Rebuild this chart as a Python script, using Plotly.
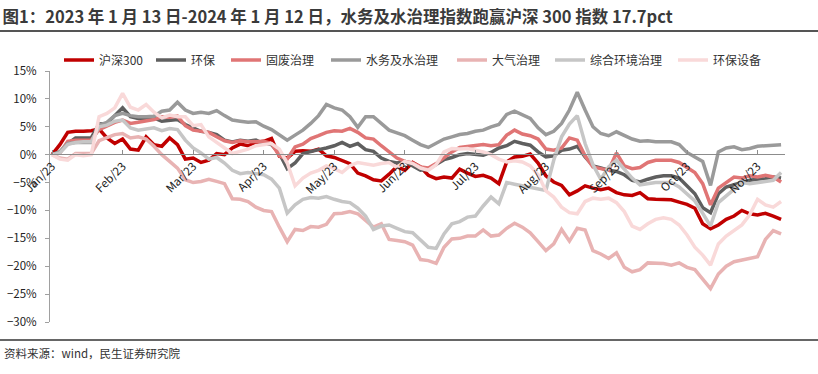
import plotly.graph_objects as go

# x positions: trading-day sample index
month_labels = ["Jan/23", "Feb/23", "Mar/23", "Apr/23", "May/23", "Jun/23",
                "Jul/23", "Aug/23", "Sep/23", "Oct/23", "Nov/23"]
month_ticks = [0, 9, 18, 27, 36, 45, 54, 63, 72, 81, 90]

hs300 = [0, 1.8, 4.0, 4.2, 4.2, 4.3, 4.6, 3.0, 2.0, 2.8,
         1.0, 0.8, 3.2, 1.8, 1.5, 3.0, 1.8, -0.8, -0.6, -1.4,
         -1.0, 0.2, 0.0, 1.2, 1.9, 1.6, 2.2, 2.4, 2.9, -0.3,
         -0.6, 0.6, 0.7, 0.6, 1.0, -0.2, -0.5, -1.0, -1.6, -3.3,
         -3.8, -4.5, -4.7, -3.5, -2.1, -2.8, -1.4, -2.2, -3.7, -4.3,
         -4.0, -4.2, -2.6, -3.3, -3.9, -3.7, -4.2, -5.2, -1.3, -0.4,
         -0.3, 0.1, -1.5, -3.8, -4.9, -5.5, -7.2, -6.5, -5.6, -6.0,
         -6.3, -6.0, -6.8, -7.2, -7.3, -6.8, -7.9, -8.0, -8.0, -8.1,
         -8.5, -8.9, -9.6, -12.4, -13.3, -12.6, -11.6, -11.0, -10.0, -10.6,
         -10.8, -10.5, -11.0, -11.6]

huanbao = [0, 0.5, 2.0, 3.0, 3.0, 3.0, 5.5, 5.6, 7.0, 8.4,
           6.8, 6.5, 6.4, 6.6, 6.0, 6.2, 6.3, 5.4, 4.8, 4.2,
           4.0, 3.6, 2.6, 2.3, 2.6, 2.4, 2.6, 2.0, 1.8, 0.2,
           -2.5, -1.5, 0.2, 0.6, 0.9, 1.2, 1.6, 2.2, 1.5, 2.0,
           0.9, 0.6, -0.6, -1.2, -1.5, -1.2, -2.0, -2.8, -2.6, -1.8,
           -0.9, -0.5, 0.0, 0.2, 0.1, -0.1, 0.4, 1.2, 1.6, 2.4,
           2.0, 1.7, 0.5, -0.4, -0.2, 0.8, 1.0, 1.5, -0.4, -2.0,
           -2.4, -2.8, -3.0, -3.6, -4.6, -4.9, -4.4, -4.0, -3.8, -3.8,
           -4.2, -5.6, -7.0, -9.5, -10.4, -7.0, -5.8, -5.4, -5.0, -4.6,
           -4.4, -4.3, -4.0, -4.2]

gufei = [0, 0.3, 2.4, 2.6, 2.6, 2.6, 4.5, 5.2, 5.8, 6.2,
         5.6, 5.8, 6.0, 6.3, 6.8, 6.7, 6.9, 5.2, 4.4, 4.2,
         4.0, 3.2, 2.5, 2.2, 2.5, 2.3, 2.4, 2.4, 2.0, -0.2,
         -0.8, 1.4, 1.9, 2.9, 3.4, 4.0, 4.3, 4.2, 4.7, 4.0,
         3.0, 2.8, 1.6, 0.4, -0.6, -1.2, -1.5, -2.2, -2.4, -1.6,
         -0.5, 0.5, 1.3, 1.5, 1.6, 1.8, 1.6, 1.8, 3.5, 4.4,
         3.7, 3.4, 2.8, 1.0, 0.8, 1.2, 3.0, 2.6, -0.2, -2.2,
         -2.5, -2.8, 0.3, -2.0, -2.5, -2.3, -1.4, -1.0, -1.0, -1.0,
         -1.4, -2.3, -3.2, -5.2, -9.0, -6.0, -5.0, -4.0, -4.2, -3.8,
         -4.0, -3.7, -4.0, -4.9]

shuiwu = [0, 0.5, 2.0, 2.2, 2.2, 2.2, 5.3, 5.8, 7.0, 7.4,
          7.0, 6.8, 6.8, 6.9, 7.8, 8.0, 9.4, 8.0, 7.4, 7.6,
          7.4, 7.9, 7.0, 6.2, 6.0, 5.8, 5.9, 5.1, 4.5, 3.6,
          2.6, 3.5, 4.4, 5.6, 7.0, 9.0, 8.4, 8.0, 6.8, 4.9,
          6.8, 6.8, 5.6, 4.4, 3.9, 3.4, 2.6, 1.8, 1.3, 2.0,
          2.8, 3.2, 3.6, 3.8, 4.2, 4.4, 5.0, 5.4, 7.2, 7.8,
          7.2, 6.5, 4.8, 3.6, 4.2, 5.6, 8.0, 11.2, 8.0, 5.0,
          3.8, 3.4, 4.1, 3.4, 2.8, 2.4, 2.5, 2.3, 2.3, 2.3,
          1.8, 0.4, -0.4, -1.2, -5.5, 0.5, 1.2, 1.4, 0.9, 1.1,
          1.5, 1.6, 1.8, 1.8]

daqi = [0, -0.6, -0.8, 0.2, 0.2, 0.2, 2.5, 3.0, 3.6, 3.8,
        3.0, 3.2, 2.8, 1.5, 0.0, -1.2, -2.4, -4.5, -5.0, -4.8,
        -4.4, -4.8, -5.2, -7.9, -8.0, -8.4, -9.4, -10.0, -10.2, -13.0,
        -15.6, -13.4, -13.6, -12.9, -13.0, -12.5, -10.6, -10.5, -10.2, -10.6,
        -11.8, -13.0, -12.4, -15.2, -15.4, -15.6, -16.2, -18.8, -19.0, -19.5,
        -16.6, -15.1, -15.0, -14.6, -14.6, -13.5, -14.6, -14.4, -13.2, -12.3,
        -13.0, -14.0, -15.6, -17.2, -16.0, -13.4, -15.5, -13.2, -13.5, -17.2,
        -17.8, -18.6, -17.6, -20.2, -21.0, -20.6, -19.4, -19.4, -19.5, -19.8,
        -19.4, -20.2, -20.6, -22.3, -24.0, -21.4, -20.0, -19.2, -18.9, -18.6,
        -18.3, -15.2, -13.6, -14.2]

zonghe = [0, 0.3, 1.8, 2.2, 2.3, 2.3, 5.0, 5.3, 6.0, 6.2,
          4.8, 4.4, 4.6, 4.8, 4.3, 4.7, 4.5, 2.6, 1.2, 0.3,
          -0.8, -0.5, -1.5, -2.8, -3.4, -3.2, -3.4, -3.6, -4.4, -6.0,
          -10.5, -9.0, -8.0, -7.7, -7.8, -7.5, -8.0, -8.4, -8.6, -9.6,
          -11.0, -13.4, -12.8, -12.6, -13.2, -13.8, -14.0, -15.3, -16.6, -16.8,
          -14.2, -12.4, -12.0, -11.2, -11.0, -9.2, -7.6, -8.8, -5.0, -5.3,
          -5.6, -5.8, -6.2, -6.4, -1.0, 3.2, 5.5, 7.0, 2.0, -1.8,
          -4.4, -2.2, -1.0, -2.6, -4.2, -5.4, -5.2, -5.0, -5.0, -5.0,
          -5.8, -7.0, -8.3, -10.5, -12.8, -8.6, -7.4, -6.4, -5.0, -5.2,
          -5.0, -4.8, -4.6, -3.2]

shebei = [0, -0.8, -1.0, 0.0, -0.2, 0.0, 6.8, 7.4, 8.4, 11.0,
          8.5, 8.0, 9.0, 7.6, 6.6, 7.1, 6.8, 6.8, 5.2, 5.4,
          3.2, 2.2, 1.2, 0.2, 0.6, 1.0, 1.6, 1.8, 2.0, 1.0,
          -1.5, -5.6, -4.2, -3.3, -2.8, -2.0, -2.5, -3.2, -2.0, -1.4,
          -1.6, -1.9, -1.6, -1.4, -2.3, -1.2, -1.6, -2.4, -2.8, -1.8,
          0.5, 1.1, 1.0, 1.1, 0.8, 0.5, 0.0, -0.8, -1.3, -1.1,
          -1.3, -2.0, -3.6, -6.5, -7.6, -9.4, -10.4, -10.6, -8.4, -7.8,
          -8.0, -7.8, -8.6, -10.2, -12.8, -13.4, -12.4, -11.6, -11.3, -11.6,
          -12.6, -14.4, -16.6, -18.0, -19.8, -16.0, -14.6, -13.6, -12.6, -10.8,
          -8.0, -9.0, -9.4, -8.4]

series_names = ["沪深300", "环保", "固废治理", "水务及水治理", "大气治理", "综合环境治理", "环保设备"]
series_values = [hs300, huanbao, gufei, shuiwu, daqi, zonghe, shebei]
series_colors = ["#C00000", "#5F5F5F", "#E07575", "#9A9A9A", "#E8B3B3", "#C6C6C6", "#F9D9D9"]
legend_widths = [47, 30, 55, 81, 53, 78, 50]

x = list(range(len(hs300)))

W, H = 818, 374
def px_x(p):
    return p / W
def px_y(p):
    return 1 - p / H

FONT = "Noto Sans CJK SC"
fig = go.Figure()

# empty helper traces (added first, so they sit underneath) that make the header/footer rule axes draw
for ax in ["x2", "x3"]:
    fig.add_trace(go.Scatter(x=[None], y=[None], xaxis=ax, yaxis="y", mode="lines",
                             showlegend=False, hoverinfo="skip"))

for name, vals, col, lw in zip(series_names, series_values, series_colors, legend_widths):
    fig.add_trace(go.Scatter(x=x, y=vals, mode="lines", name=name, legendwidth=lw,
                             line=dict(color=col, width=3.5)))

rule_axis = dict(domain=[0, 1], anchor="free", range=[0, 1], showgrid=False, zeroline=False,
                 showticklabels=False, ticks="", fixedrange=True)

fig.update_layout(
    width=W, height=H,
    margin=dict(l=0, r=0, t=0, b=0, pad=0, autoexpand=False),
    paper_bgcolor="white", plot_bgcolor="rgba(0,0,0,0)",
    font=dict(family=FONT, size=11, color="#333333"),
    showlegend=True,
    hovermode=False,
    title=dict(text="<b>图1：2023 年 1 月 13 日-2024 年 1 月 12 日，水务及水治理指数跑赢沪深 300 指数 17.7pct</b>",
               x=0.003, xref="container", xanchor="left",
               y=1 - 17 / H, yref="container", yanchor="middle",
               font=dict(family=FONT, size=16.5, color="#3a3a3a")),
    legend=dict(orientation="h", x=px_x(59), xanchor="left",
                y=px_y(60), yanchor="middle",
                font=dict(family=FONT, size=12, color="#333333"),
                itemwidth=30, tracegroupgap=0, bgcolor="rgba(0,0,0,0)"),
    xaxis=dict(domain=[px_x(50), px_x(785)],
               range=[-0.26, 93.5], tickmode="array", tickvals=month_ticks, ticktext=month_labels,
               tickangle=-45, showgrid=False, zeroline=False,
               showline=True, linecolor="#8c8c8c", linewidth=1,
               anchor="free", position=px_y(154),
               ticks="inside", ticklen=4, tickcolor="#8c8c8c",
               tickfont=dict(family=FONT, size=11.5, color="#222222")),
    xaxis2=dict(rule_axis, position=px_y(31), showline=True, linecolor="#555555", linewidth=2),
    xaxis3=dict(rule_axis, position=px_y(340), showline=True, linecolor="#666666", linewidth=1.5),
    yaxis=dict(domain=[px_y(322), px_y(71)],
               range=[-30, 15], dtick=5, tick0=0, ticksuffix="%",
               showgrid=False, zeroline=False,
               showline=True, linecolor="#a0a0a0", linewidth=1,
               ticks="outside", ticklen=4, tickcolor="#a0a0a0",
               ticklabelstandoff=6,
               tickfont=dict(family=FONT, size=11.5, color="#222222")),
)

fig.add_annotation(text="资料来源：wind，民生证券研究院", xref="paper", yref="paper",
                   x=px_x(2), y=px_y(353), xanchor="left", yanchor="middle",
                   showarrow=False, font=dict(family=FONT, size=11.5, color="#333333"))

fig.write_html("out.html", config={"displayModeBar": False},
               post_script="document.body.style.margin='0';document.body.style.overflow='hidden';")
